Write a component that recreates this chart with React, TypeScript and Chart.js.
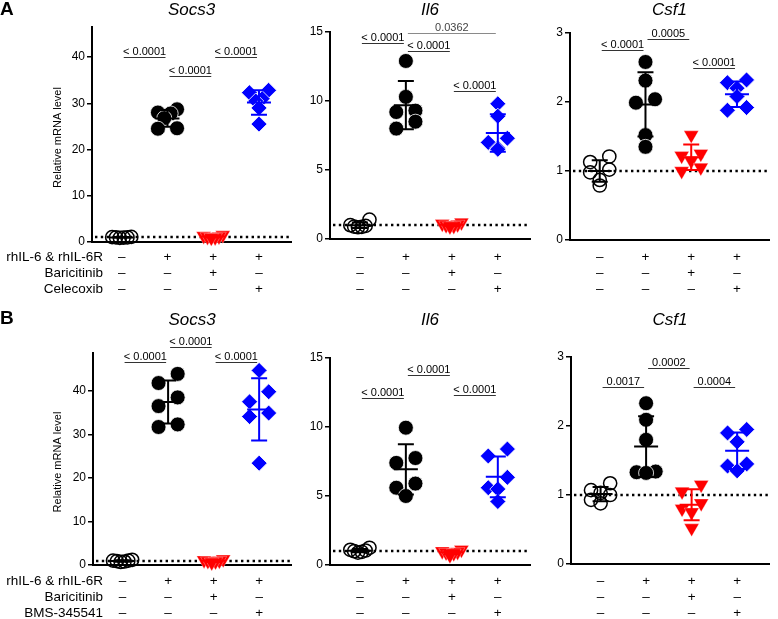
import React, { useEffect, useRef } from 'react';
import { Chart, registerables } from 'chart.js';

Chart.register(...registerables);

const FONT = '"Liberation Sans", Arial, Helvetica, sans-serif';
Chart.defaults.font.family = FONT;

// ---------- labels ----------
const ROW_LABELS_A = ['rhIL-6 & rhIL-6R', 'Baricitinib', 'Celecoxib'];
const ROW_LABELS_B = ['rhIL-6 & rhIL-6R', 'Baricitinib', 'BMS-345541'];
const CONDITIONS = [
  ['–', '–', '–'],
  ['+', '–', '–'],
  ['+', '+', '–'],
  ['+', '–', '+'],
];
const SOCS3_TICKS = [0, 10, 20, 30, 40];
const IL6_TICKS = [0, 5, 10, 15];
const CSF1_TICKS = [0, 1, 2, 3];

// ---------- panel A data ----------
const aSocs3Ctrl = [1.1, 1.05, 1.0, 0.95, 0.9, 1.0];
const aSocs3IL6 = [28.7, 28.0, 27.8, 26.8, 24.6, 24.5];
const aSocs3Bari = [1.5, 1.3, 1.2, 1.1, 1.0, 0.9];
const aSocs3Cele = [32.8, 32.3, 31.0, 30.5, 29.0, 25.5];

const aIl6Ctrl = [1.4, 1.0, 0.95, 0.9, 0.88, 0.85];
const aIl6IL6 = [12.9, 10.3, 9.3, 9.2, 8.5, 8.0];
const aIl6Bari = [1.2, 1.1, 1.05, 1.0, 0.95, 0.9];
const aIl6Cele = [9.8, 8.9, 7.3, 7.0, 6.6, 6.5];

const aCsf1Ctrl = [1.21, 1.13, 1.02, 0.98, 0.87, 0.79];
const aCsf1IL6 = [2.58, 2.31, 2.04, 1.99, 1.52, 1.35];
const aCsf1Bari = [1.52, 1.25, 1.22, 1.15, 1.05, 1.0];
const aCsf1Cele = [2.32, 2.28, 2.2, 2.08, 1.92, 1.88];

// ---------- panel B data ----------
const bSocs3Ctrl = [1.2, 1.0, 1.0, 0.9, 0.8, 0.7];
const bSocs3IL6 = [43.9, 41.8, 38.5, 36.5, 32.3, 31.7];
const bSocs3Bari = [1.3, 1.1, 1.0, 0.9, 0.8, 0.6];
const bSocs3Bms = [44.7, 39.8, 37.5, 34.9, 34.1, 23.4];

const bIl6Ctrl = [1.25, 1.1, 1.05, 1.0, 0.95, 0.9];
const bIl6IL6 = [9.95, 7.75, 7.4, 5.9, 5.6, 5.0];
const bIl6Bari = [1.1, 1.0, 0.95, 0.9, 0.85, 0.7];
const bIl6Bms = [8.4, 7.9, 6.35, 5.6, 5.5, 4.6];

const bCsf1Ctrl = [1.17, 1.07, 1.03, 1.0, 0.93, 0.88];
const bCsf1IL6 = [2.33, 2.09, 1.8, 1.34, 1.33, 1.32];
const bCsf1Bari = [1.15, 1.05, 0.88, 0.8, 0.75, 0.52];
const bCsf1Bms = [1.95, 1.9, 1.77, 1.45, 1.42, 1.35];

// ---------- significance brackets: [from group, to group, height, label] ----------
const aSocs3P: [number, number, number, string][] = [
  [1, 2, 40, '< 0.0001'],
  [2, 3, 36, '< 0.0001'],
  [3, 4, 40, '< 0.0001'],
];
const aIl6P: [number, number, number, string][] = [
  [1, 2, 14.2, '< 0.0001'],
  [2, 3, 13.6, '< 0.0001'],
  [2, 4, 14.9, '0.0362'],
  [3, 4, 10.7, '< 0.0001'],
];
const aCsf1P: [number, number, number, string][] = [
  [1, 2, 2.75, '< 0.0001'],
  [2, 3, 2.91, '0.0005'],
  [3, 4, 2.5, '< 0.0001'],
];
const bSocs3P: [number, number, number, string][] = [
  [1, 2, 46.6, '< 0.0001'],
  [2, 3, 50.0, '< 0.0001'],
  [3, 4, 46.7, '< 0.0001'],
];
const bIl6P: [number, number, number, string][] = [
  [1, 2, 12.1, '< 0.0001'],
  [2, 3, 13.8, '< 0.0001'],
  [3, 4, 12.3, '< 0.0001'],
];
const bCsf1P: [number, number, number, string][] = [
  [1, 2, 2.56, '0.0017'],
  [2, 3, 2.84, '0.0002'],
  [3, 4, 2.56, '0.0004'],
];

// ---------- layout ----------
const X_MIN = 0.35;
const X_MAX = 4.7;

type PanelCfg = {
  title: string;
  letter?: string;
  rowLabels?: string[];
  yTitle?: boolean;
  series: number[][];
  brackets: [number, number, number, string][];
  ticks: number[];
  yMax: number;
  box: { left: number; top: number; width: number; height: number };
  area: { left: number; top: number; bottom: number };
  labelPad: number;
  titleY: number;
  letterY?: number;
};

const PANELS: PanelCfg[] = [
  {
    title: 'Socs3', letter: 'A', rowLabels: ROW_LABELS_A, yTitle: true,
    series: [aSocs3Ctrl, aSocs3IL6, aSocs3Bari, aSocs3Cele], brackets: aSocs3P,
    ticks: SOCS3_TICKS, yMax: 46.5,
    box: { left: 0, top: 0, width: 300, height: 300 }, area: { left: 92, top: 27, bottom: 242 },
    labelPad: 7, titleY: 10, letterY: 15,
  },
  {
    title: 'Il6', series: [aIl6Ctrl, aIl6IL6, aIl6Bari, aIl6Cele], brackets: aIl6P,
    ticks: IL6_TICKS, yMax: 15,
    box: { left: 300, top: 0, width: 239, height: 300 }, area: { left: 330, top: 32, bottom: 239 },
    labelPad: 10, titleY: 10,
  },
  {
    title: 'Csf1', series: [aCsf1Ctrl, aCsf1IL6, aCsf1Bari, aCsf1Cele], brackets: aCsf1P,
    ticks: CSF1_TICKS, yMax: 3,
    box: { left: 540, top: 0, width: 238, height: 300 }, area: { left: 570, top: 33, bottom: 240 },
    labelPad: 9, titleY: 10,
  },
  {
    title: 'Socs3', letter: 'B', rowLabels: ROW_LABELS_B, yTitle: true,
    series: [bSocs3Ctrl, bSocs3IL6, bSocs3Bari, bSocs3Bms], brackets: bSocs3P,
    ticks: SOCS3_TICKS, yMax: 48.7,
    box: { left: 0, top: 300, width: 300, height: 319 }, area: { left: 93, top: 353, bottom: 565 },
    labelPad: 8, titleY: 320, letterY: 324,
  },
  {
    title: 'Il6', series: [bIl6Ctrl, bIl6IL6, bIl6Bari, bIl6Bms], brackets: bIl6P,
    ticks: IL6_TICKS, yMax: 15,
    box: { left: 300, top: 300, width: 239, height: 319 }, area: { left: 330, top: 358, bottom: 565 },
    labelPad: 8, titleY: 320,
  },
  {
    title: 'Csf1', series: [bCsf1Ctrl, bCsf1IL6, bCsf1Bari, bCsf1Bms], brackets: bCsf1P,
    ticks: CSF1_TICKS, yMax: 3,
    box: { left: 540, top: 300, width: 238, height: 319 }, area: { left: 571, top: 357, bottom: 564 },
    labelPad: 9, titleY: 320,
  },
];

const GROUP_COLORS = ['#000000', '#000000', '#ff0000', '#0000ff'];
const GROUP_STYLES = [
  { pointStyle: 'circle', pointRadius: 6.6, pointBackgroundColor: 'rgba(0,0,0,0)', pointBorderColor: '#000', pointBorderWidth: 1.5 },
  { pointStyle: 'circle', pointRadius: 7.5, pointBackgroundColor: '#000', pointBorderColor: '#fff', pointBorderWidth: 0.8 },
  { pointStyle: 'triangle', pointRotation: 180, pointRadius: 8.5, pointBackgroundColor: '#ff0000', pointBorderColor: 'rgba(255,255,255,0.6)', pointBorderWidth: 0.5 },
  { pointStyle: 'rectRot', pointRadius: 8, pointBackgroundColor: '#0000ff', pointBorderColor: '#fff', pointBorderWidth: 0.8 },
];

// horizontal spreading of overlapping dots (scatter dot plot layout)
function spread(values: number[], pxPerY: number, pxPerX: number): number[] {
  const order = values.map((_, i) => i).sort((a, b) => values[b] - values[a]);
  const offs = new Array(values.length).fill(0);
  let row: number[] = [];
  const flush = () => {
    const n = row.length;
    if (n > 1) {
      const span = Math.min(20 * (n - 1), 20);
      // slot order: right, left, second right, second left, ...
      const slots: number[] = [];
      let lo = 0;
      let hi = n - 1;
      while (lo <= hi) {
        slots.push(hi--);
        if (lo <= hi) slots.push(lo++);
      }
      row.forEach((k, j) => {
        const p = slots[j];
        offs[k] = (-span / 2 + (p * span) / (n - 1)) / pxPerX;
      });
    }
    row = [];
  };
  order.forEach((k) => {
    if (row.length && (values[row[0]] - values[k]) * pxPerY >= 11) flush();
    row.push(k);
  });
  flush();
  return offs;
}

function meanSd(v: number[]) {
  const m = v.reduce((a, b) => a + b, 0) / v.length;
  const s = Math.sqrt(v.reduce((a, b) => a + (b - m) * (b - m), 0) / (v.length - 1));
  return [m, s];
}

function Panel({ cfg }: { cfg: PanelCfg }) {
  const ref = useRef<HTMLCanvasElement>(null);
  useEffect(() => {
    const canvas = ref.current!;
    const { box, area } = cfg;
    const yW = area.left - box.left;
    const xH = box.top + box.height - area.bottom;
    const plotW = box.left + box.width - area.left;
    const pxX = plotW / (X_MAX - X_MIN);
    const pxY = (area.bottom - area.top) / cfg.yMax;

    const datasets = cfg.series.map((vals, g) => {
      const offs = spread(vals, pxY, pxX);
      return {
        data: vals.map((v, i) => ({ x: g + 1 + offs[i], y: v })),
        clip: false,
        ...GROUP_STYLES[g],
      } as any;
    });

    const decor = {
      id: 'decor',
      beforeDatasetsDraw(chart: any) {
        const { ctx, chartArea, scales } = chart;
        const yy = Math.round(scales.y.getPixelForValue(1));
        ctx.save();
        ctx.strokeStyle = '#000';
        ctx.lineWidth = 2.4;
        ctx.setLineDash([2.4, 3.4]);
        ctx.beginPath();
        ctx.moveTo(chartArea.left + 3, yy);
        ctx.lineTo(chartArea.right, yy);
        ctx.stroke();
        ctx.restore();
      },
      afterDatasetsDraw(chart: any) {
        const { ctx, chartArea, scales } = chart;
        const xs = scales.x;
        const ys = scales.y;
        ctx.save();
        // mean ± SD
        cfg.series.forEach((vals, g) => {
          const [m, s] = meanSd(vals);
          const cx = xs.getPixelForValue(g + 1);
          const ym = ys.getPixelForValue(m);
          const yt = ys.getPixelForValue(m + s);
          const yb = ys.getPixelForValue(m - s);
          ctx.strokeStyle = GROUP_COLORS[g];
          ctx.lineWidth = 2;
          ctx.beginPath();
          ctx.moveTo(cx, yt);
          ctx.lineTo(cx, yb);
          ctx.moveTo(cx - 8, yt);
          ctx.lineTo(cx + 8, yt);
          ctx.moveTo(cx - 8, yb);
          ctx.lineTo(cx + 8, yb);
          ctx.moveTo(cx - 12, ym);
          ctx.lineTo(cx + 12, ym);
          ctx.stroke();
        });
        // brackets
        ctx.font = `11px ${FONT}`;
        ctx.textAlign = 'center';
        ctx.textBaseline = 'alphabetic';
        cfg.brackets.forEach(([a, b, h, label]) => {
          const x1 = xs.getPixelForValue(a) + 2;
          const x2 = xs.getPixelForValue(b) - 2;
          const yy = Math.round(ys.getPixelForValue(h)) + 0.5;
          const gray = label === '0.0362';
          ctx.strokeStyle = gray ? '#8a8a8a' : '#333';
          ctx.lineWidth = 1.2;
          ctx.beginPath();
          ctx.moveTo(x1, yy);
          ctx.lineTo(x2, yy);
          ctx.stroke();
          ctx.fillStyle = gray ? '#444' : '#000';
          ctx.fillText(label, (x1 + x2) / 2, yy - 2.5);
        });
        // gene title
        ctx.fillStyle = '#000';
        ctx.font = `italic 17px ${FONT}`;
        ctx.textBaseline = 'middle';
        ctx.fillText(cfg.title, (chartArea.left + chartArea.right) / 2, cfg.titleY - box.top);
        // panel letter
        if (cfg.letter) {
          ctx.font = `bold 19px ${FONT}`;
          ctx.textAlign = 'left';
          ctx.textBaseline = 'alphabetic';
          ctx.fillText(cfg.letter, 0, (cfg.letterY || 0) - box.top);
        }
        // y title
        if (cfg.yTitle) {
          ctx.save();
          ctx.font = `11px ${FONT}`;
          ctx.textAlign = 'center';
          ctx.textBaseline = 'middle';
          ctx.translate(58, (chartArea.top + chartArea.bottom) / 2 + 3);
          ctx.rotate(-Math.PI / 2);
          ctx.fillText('Relative mRNA level', 0, 0);
          ctx.restore();
        }
        // row labels
        if (cfg.rowLabels) {
          ctx.font = `13.5px ${FONT}`;
          ctx.textAlign = 'right';
          ctx.textBaseline = 'middle';
          cfg.rowLabels.forEach((t, i) => {
            ctx.fillText(t, 103 - box.left, chartArea.bottom + cfg.labelPad + 8 + i * 16);
          });
        }
        ctx.restore();
      },
    };

    const chart = new Chart(canvas, {
      type: 'scatter',
      data: { datasets },
      options: {
        responsive: false,
        maintainAspectRatio: false,
        animation: false,
        events: [],
        layout: { padding: { left: 0, right: 0, top: area.top - box.top, bottom: 0 } },
        plugins: { legend: { display: false }, tooltip: { enabled: false }, title: { display: false } },
        scales: {
          x: {
            type: 'linear',
            bounds: 'data',
            min: X_MIN,
            max: X_MAX,
            afterBuildTicks: (s: any) => {
              s.ticks = [1, 2, 3, 4].map((v) => ({ value: v }));
            },
            afterFit: (s: any) => {
              s.height = xH;
            },
            grid: { display: false, drawTicks: false },
            border: { display: true, color: '#000', width: 2 },
            ticks: {
              color: '#000',
              autoSkip: false,
              maxRotation: 0,
              padding: cfg.labelPad,
              font: { size: 13.5, family: FONT, lineHeight: '16px' },
              callback: (_v: any, i: number) => CONDITIONS[i],
            },
          },
          y: {
            type: 'linear',
            bounds: 'data',
            min: 0,
            max: cfg.yMax,
            afterBuildTicks: (s: any) => {
              s.ticks = cfg.ticks.map((v) => ({ value: v }));
            },
            afterFit: (s: any) => {
              s.width = yW;
            },
            grid: { display: true, drawOnChartArea: false, drawTicks: true, tickLength: 5, color: '#000', lineWidth: 1.5 },
            border: { display: true, color: '#000', width: 2 },
            ticks: { color: '#000', padding: 2, font: { size: 12, family: FONT } },
          },
        },
      } as any,
      plugins: [decor],
    });
    return () => chart.destroy();
  }, [cfg]);
  const { box } = cfg;
  return (
    <canvas
      ref={ref}
      width={box.width}
      height={box.height}
      style={{ position: 'absolute', left: box.left, top: box.top, width: box.width, height: box.height }}
    />
  );
}

export default function App() {
  return (
    <div style={{ position: 'absolute', left: 0, top: 0, width: 778, height: 619, background: '#fff', overflow: 'hidden' }}>
      {PANELS.map((p, i) => (
        <Panel key={i} cfg={p} />
      ))}
    </div>
  );
}
